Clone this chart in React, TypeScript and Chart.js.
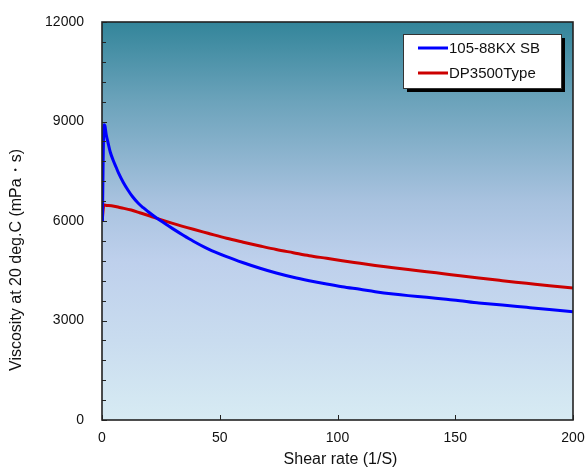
import React, { useEffect, useRef } from "react";
import { Chart, registerables } from "chart.js";

Chart.register(...registerables);

const seriesNames = ["105-88KX SB", "DP3500Type"];
const seriesColors = ["#0000ff", "#cc0000"];

const blueX = [0.2, 0.5, 0.9, 1.2, 1.8, 2.6, 3.5, 4.7, 6, 7, 9, 11, 13, 15.3, 17.5, 19.5, 22, 24.6, 30, 34.5, 38.8, 45, 52.9, 60, 67.1, 74, 81.2, 88, 95.4, 102, 109.6, 116, 123.7, 130, 137.9, 145, 152, 158, 160, 170, 180.3, 190, 200];
const blueY = [6000, 7900, 8900, 8880, 8600, 8350, 8080, 7840, 7620, 7450, 7170, 6935, 6730, 6543, 6400, 6285, 6150, 6020, 5770, 5570, 5390, 5160, 4924, 4740, 4574, 4430, 4302, 4200, 4101, 4020, 3940, 3870, 3799, 3750, 3699, 3645, 3597, 3540, 3530, 3470, 3397, 3330, 3266];

const redX = [0.1, 0.5, 0.8, 2, 4, 8, 12.4, 16, 20.4, 24.6, 30, 38.8, 45, 52.9, 60, 67.1, 74, 81.2, 88, 95.4, 102, 109.6, 116, 123.7, 130, 137.9, 145, 152, 160, 170, 180.3, 190, 200];
const redY = [6030, 6350, 6480, 6470, 6460, 6400, 6331, 6250, 6150, 6050, 5930, 5750, 5630, 5478, 5360, 5246, 5140, 5045, 4955, 4874, 4800, 4724, 4660, 4593, 4535, 4472, 4410, 4351, 4280, 4200, 4121, 4045, 3980];

const xMin = 0, xMax = 200, xStep = 50;
const yMin = 0, yMax = 12000, yStep = 3000, yMinorStep = 600;
const xTitle = "Shear rate (1/S)";
const yTitle = "Viscosity at 20 deg.C (mPa・s)";

const FONT = "'Liberation Sans', Arial, sans-serif";

const decor = {
  id: "decor",
  beforeDatasetsDraw(chart: any) {
    const { ctx, chartArea: a } = chart;
    const g = ctx.createLinearGradient(0, a.top, 0, a.bottom);
    g.addColorStop(0, "#33859a");
    g.addColorStop(0.2, "#6ca3bb");
    g.addColorStop(0.45, "#a8c2df");
    g.addColorStop(0.6, "#bed0ec");
    g.addColorStop(0.8, "#c9dcef");
    g.addColorStop(1, "#d7ebf3");
    ctx.save();
    ctx.fillStyle = g;
    ctx.fillRect(a.left, a.top, a.right - a.left, a.bottom - a.top);
    ctx.restore();
  },
  afterDatasetsDraw(chart: any) {
    const { ctx, chartArea: a, scales } = chart;
    ctx.save();
    ctx.strokeStyle = "#222";
    ctx.lineWidth = 1;
    ctx.beginPath();
    for (let v = yMin; v <= yMax; v += yMinorStep) {
      const y = Math.round(scales.y.getPixelForValue(v)) + 0.5;
      const len = v % yStep === 0 ? 5 : 4;
      ctx.moveTo(a.left, y);
      ctx.lineTo(a.left + len, y);
    }
    for (let v = xMin; v <= xMax; v += xStep) {
      const x = Math.round(scales.x.getPixelForValue(v)) + 0.5;
      ctx.moveTo(x, a.bottom);
      ctx.lineTo(x, a.bottom - 5);
    }
    ctx.stroke();
    ctx.lineWidth = 1.6;
    ctx.strokeRect(a.left, a.top, a.right - a.left, a.bottom - a.top);
    ctx.restore();
  },
  afterDraw(chart: any) {
    const { ctx, chartArea: a } = chart;
    ctx.save();
    // legend
    const bx = 403, by = 34, bw = 158, bh = 54;
    ctx.fillStyle = "#000";
    ctx.fillRect(bx + 4, by + 4, bw, bh);
    ctx.fillStyle = "#fff";
    ctx.fillRect(bx, by, bw, bh);
    ctx.strokeStyle = "#333";
    ctx.lineWidth = 1;
    ctx.strokeRect(bx + 0.5, by + 0.5, bw, bh);
    chart.data.datasets.forEach((ds: any, i: number) => {
      const ly = by + 14 + i * 25;
      ctx.strokeStyle = ds.borderColor;
      ctx.lineWidth = 3;
      ctx.beginPath();
      ctx.moveTo(418, ly);
      ctx.lineTo(448, ly);
      ctx.stroke();
      ctx.fillStyle = "#111";
      ctx.font = `15px ${FONT}`;
      ctx.textAlign = "left";
      ctx.textBaseline = "middle";
      ctx.fillText(ds.label, 449, ly + 1);
    });
    // axis titles
    ctx.fillStyle = "#111";
    ctx.font = `16px ${FONT}`;
    ctx.textAlign = "center";
    ctx.textBaseline = "middle";
    ctx.fillText(xTitle, (a.left + a.right) / 2 + 3, 460);
    ctx.translate(17, 260);
    ctx.rotate(-Math.PI / 2);
    ctx.fillText(yTitle, 0, 0);
    ctx.restore();
  },
};

export default function App() {
  const ref = useRef<HTMLCanvasElement | null>(null);
  useEffect(() => {
    if (!ref.current) return;
    const chart = new Chart(ref.current, {
      type: "line",
      data: {
        datasets: [
          {
            label: seriesNames[0],
            data: blueX.map((x, i) => ({ x, y: blueY[i] })),
            borderColor: seriesColors[0],
            backgroundColor: seriesColors[0],
            borderWidth: 3,
            pointRadius: 0,
            cubicInterpolationMode: "monotone",
          },
          {
            label: seriesNames[1],
            data: redX.map((x, i) => ({ x, y: redY[i] })),
            borderColor: seriesColors[1],
            backgroundColor: seriesColors[1],
            borderWidth: 3,
            pointRadius: 0,
            cubicInterpolationMode: "monotone",
          },
        ],
      },
      options: {
        responsive: false,
        animation: false,
        layout: { padding: { top: 22, right: 13, left: 0, bottom: 0 } },
        plugins: { legend: { display: false }, tooltip: { enabled: false } },
        scales: {
          x: {
            type: "linear",
            min: xMin,
            max: xMax,
            grid: { display: false, drawTicks: false },
            border: { display: false },
            ticks: { stepSize: xStep, padding: 10, color: "#111", font: { family: FONT, size: 14 }, maxRotation: 0, callback: (v: any) => String(v) },
            afterFit(scale: any) {
              scale.height = 48;
              scale.paddingLeft = 0;
              scale.paddingRight = 0;
            },
          },
          y: {
            type: "linear",
            min: yMin,
            max: yMax,
            grid: { display: false, drawTicks: false },
            border: { display: false },
            ticks: { stepSize: yStep, padding: 18, color: "#111", font: { family: FONT, size: 14 }, callback: (v: any) => String(v) },
            afterFit(scale: any) {
              scale.width = 102;
              scale.paddingTop = 0;
              scale.paddingBottom = 0;
            },
          },
        },
      },
      plugins: [decor],
    } as any);
    return () => chart.destroy();
  }, []);
  return (
    <div style={{ position: "absolute", left: 0, top: 0, width: 586, height: 468, background: "#fff" }}>
      <canvas ref={ref} width={586} height={468} style={{ display: "block" }} />
    </div>
  );
}
